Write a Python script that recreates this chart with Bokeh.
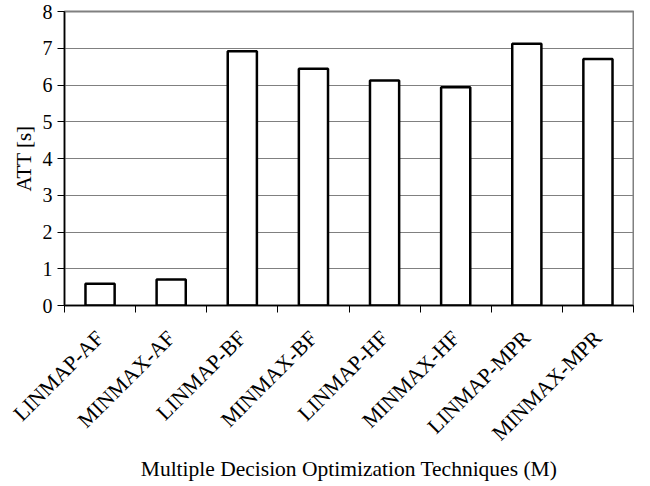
from bokeh.plotting import figure
from bokeh.models import ColumnDataSource, Range1d, FixedTicker, LinearAxis, Grid
from bokeh.embed import file_html
from bokeh.resources import INLINE
import math

categories = ["LINMAP-AF", "MINMAX-AF", "LINMAP-BF", "MINMAX-BF",
              "LINMAP-HF", "MINMAX-HF", "LINMAP-MPR", "MINMAX-MPR"]
att_values = [0.59, 0.71, 6.92, 6.44, 6.12, 5.94, 7.12, 6.71]
y_ticks = [0, 1, 2, 3, 4, 5, 6, 7, 8]

xpos = [i + 0.5 for i in range(len(categories))]
src = ColumnDataSource(dict(x=xpos, top=att_values, name=categories))

FONT = "Liberation Serif"

p = figure(width=634, height=484, output_backend="svg", toolbar_location=None,
           x_range=Range1d(0, len(categories)), y_range=Range1d(0, 8),
           x_axis_type=None, y_axis_type=None,
           min_border_left=64, min_border_right=1, min_border_top=11, min_border_bottom=179)

p.vbar(x="x", top="top", width=0.41, bottom=0, source=src,
       fill_color="white", line_color="black", line_width=2.5)

xaxis = LinearAxis(ticker=FixedTicker(ticks=xpos, minor_ticks=list(range(len(categories) + 1))))
xaxis.major_label_overrides = {x: c for x, c in zip(xpos, categories)}
xaxis.major_label_orientation = math.pi / 4
xaxis.major_tick_line_color = None
xaxis.minor_tick_line_color = "black"
xaxis.minor_tick_line_width = 1
xaxis.minor_tick_out = 7
xaxis.minor_tick_in = 0
xaxis.axis_line_color = "black"
xaxis.axis_line_width = 1.5
xaxis.major_label_text_font = FONT
xaxis.major_label_text_font_size = "21.5px"
xaxis.major_label_text_color = "black"
xaxis.major_label_standoff = 22
xaxis.axis_label = "Multiple Decision Optimization Techniques (M)"
xaxis.axis_label_text_font = FONT
xaxis.axis_label_text_font_size = "21.5px"
xaxis.axis_label_text_font_style = "normal"
xaxis.axis_label_text_color = "black"
xaxis.axis_label_standoff = 0
p.add_layout(xaxis, "below")

yaxis = LinearAxis(ticker=FixedTicker(ticks=y_ticks))
yaxis.major_tick_line_color = "black"
yaxis.major_tick_out = 7
yaxis.major_tick_in = 0
yaxis.minor_tick_line_color = None
yaxis.axis_line_color = "black"
yaxis.axis_line_width = 1.5
yaxis.major_label_text_font = FONT
yaxis.major_label_text_font_size = "20px"
yaxis.major_label_text_color = "black"
yaxis.major_label_standoff = 5
yaxis.axis_label = "ATT [s]"
yaxis.axis_label_text_font = FONT
yaxis.axis_label_text_font_size = "21px"
yaxis.axis_label_text_font_style = "normal"
yaxis.axis_label_text_color = "black"
yaxis.axis_label_standoff = 4
p.add_layout(yaxis, "left")

grid = Grid(dimension=1, ticker=yaxis.ticker, grid_line_color="#808080", grid_line_width=1)
p.add_layout(grid)

p.outline_line_color = "#808080"
p.outline_line_width = 2
p.background_fill_color = "white"
p.border_fill_color = "white"

open("out.html", "w").write(file_html(p, INLINE))
